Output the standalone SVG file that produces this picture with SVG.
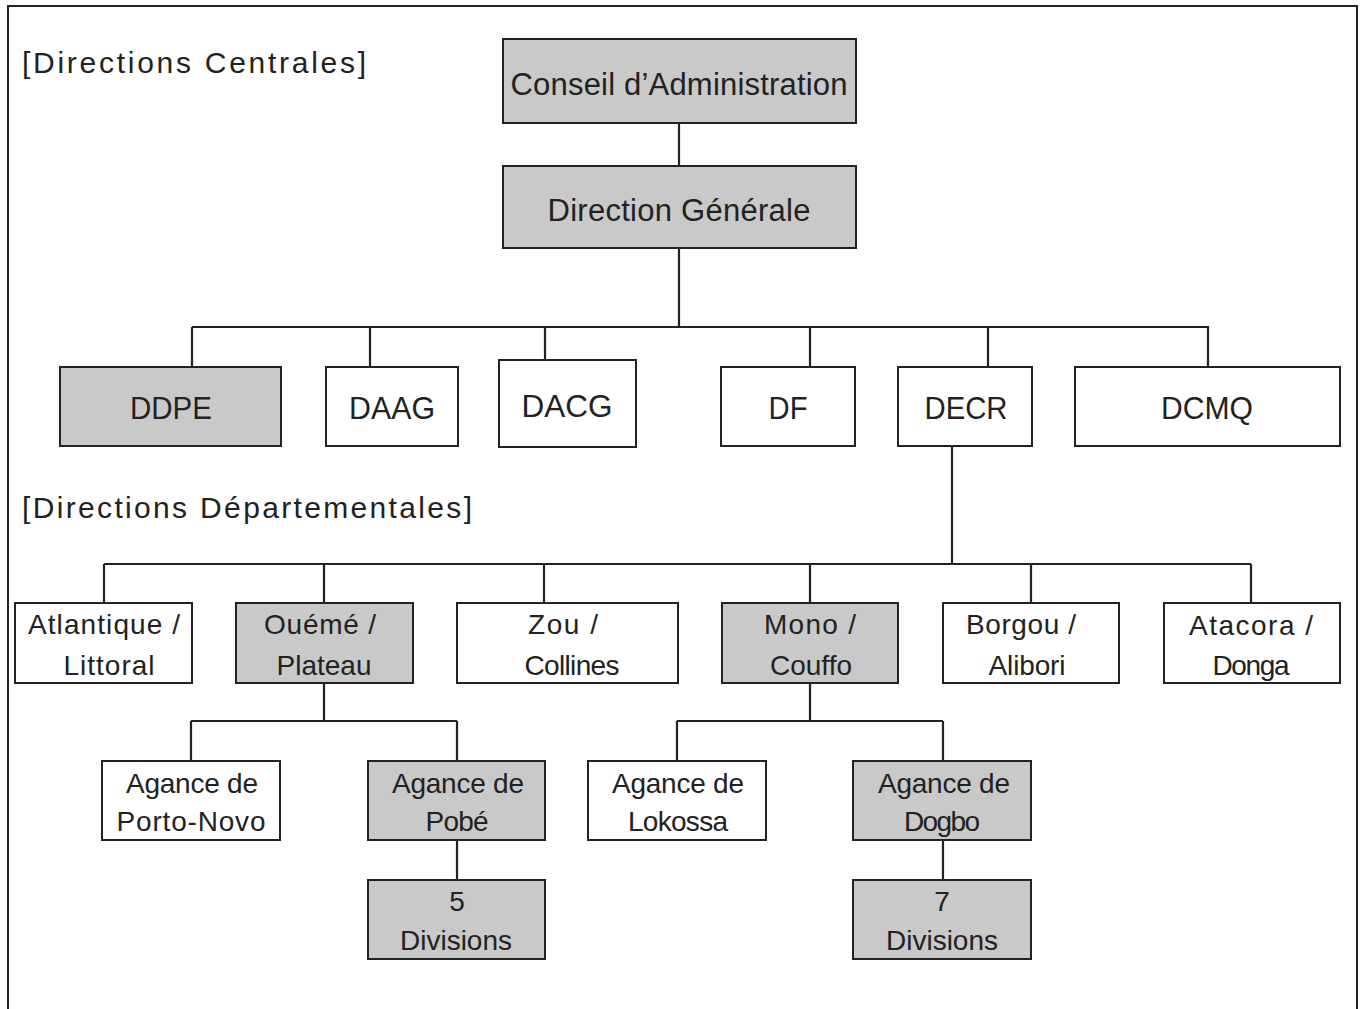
<svg xmlns="http://www.w3.org/2000/svg" width="1365" height="1009" viewBox="0 0 1365 1009">
<style>
.box{stroke:#222;stroke-width:2;fill:#fff}
.grey{fill:#c9c9c9}
.ln{stroke:#222;stroke-width:2.2;fill:none}
text{font-family:"Liberation Sans",Arial,sans-serif;fill:#222;text-anchor:middle}
.t1{font-size:31px}
.t2{font-size:28px}
.hd{font-size:30px;text-anchor:start}
</style>
<rect width="1365" height="1009" fill="#fff"/>
<path d="M8 1012 V6 H1357 V1012" fill="none" stroke="#222" stroke-width="2"/>
<text class="hd" x="22" y="73" textLength="344">[Directions Centrales]</text>
<text class="hd" x="22" y="518" textLength="450">[Directions Départementales]</text>
<g id="connectors">
<path class="ln" d="M679 123 V166 M679 248 V327 M192 327 H1209 M192 327 V367 M370 327 V367 M545 327 V360 M810 327 V367 M988 327 V367 M1208 327 V367"/>
<path class="ln" d="M952 446 V564 M104 564 H1251 M104 564 V603 M324 564 V603 M544 564 V603 M810 564 V603 M1031 564 V603 M1251 564 V603"/>
<path class="ln" d="M324 683 V721 M191 721 H457 M191 721 V761 M457 721 V761 M457 840 V880"/>
<path class="ln" d="M810 683 V721 M677 721 H943 M677 721 V761 M943 721 V761 M943 840 V880"/>
</g>
<g id="conseil"><rect class="box grey" x="503" y="39" width="353" height="84"/><text class="t1" x="679" y="95" textLength="337">Conseil d’Administration</text></g>
<g id="dg"><rect class="box grey" x="503" y="166" width="353" height="82"/><text class="t1" x="679" y="221" textLength="263">Direction Générale</text></g>
<g id="ddpe"><rect class="box grey" x="60" y="367" width="221" height="79"/><text class="t1" x="171" y="419" textLength="82" lengthAdjust="spacingAndGlyphs">DDPE</text></g>
<g id="daag"><rect class="box" x="326" y="367" width="132" height="79"/><text class="t1" x="392" y="419" textLength="86" lengthAdjust="spacingAndGlyphs">DAAG</text></g>
<g id="dacg"><rect class="box" x="499" y="360" width="137" height="87"/><text class="t1" x="567" y="417" textLength="91" lengthAdjust="spacingAndGlyphs">DACG</text></g>
<g id="df"><rect class="box" x="721" y="367" width="134" height="79"/><text class="t1" x="788" y="419" textLength="39" lengthAdjust="spacingAndGlyphs">DF</text></g>
<g id="decr"><rect class="box" x="898" y="367" width="134" height="79"/><text class="t1" x="966" y="419" textLength="83" lengthAdjust="spacingAndGlyphs">DECR</text></g>
<g id="dcmq"><rect class="box" x="1075" y="367" width="265" height="79"/><text class="t1" x="1207" y="419" textLength="92" lengthAdjust="spacingAndGlyphs">DCMQ</text></g>
<g id="atlantique"><rect class="box" x="15" y="603" width="177" height="80"/><text class="t2" x="104" y="634" textLength="152">Atlantique /</text><text class="t2" x="109" y="675" textLength="91">Littoral</text></g>
<g id="oueme"><rect class="box grey" x="236" y="603" width="177" height="80"/><text class="t2" x="320" y="634" textLength="112">Ouémé /</text><text class="t2" x="324" y="675" textLength="95">Plateau</text></g>
<g id="zou"><rect class="box" x="457" y="603" width="221" height="80"/><text class="t2" x="563" y="634" textLength="70">Zou /</text><text class="t2" x="572" y="675" textLength="95">Collines</text></g>
<g id="mono"><rect class="box grey" x="722" y="603" width="176" height="80"/><text class="t2" x="810" y="634" textLength="92">Mono /</text><text class="t2" x="811" y="675" textLength="82">Couffo</text></g>
<g id="borgou"><rect class="box" x="943" y="603" width="176" height="80"/><text class="t2" x="1021" y="634" textLength="110">Borgou /</text><text class="t2" x="1027" y="675" textLength="77">Alibori</text></g>
<g id="atacora"><rect class="box" x="1164" y="603" width="176" height="80"/><text class="t2" x="1251" y="635" textLength="124">Atacora /</text><text class="t2" x="1251" y="675" textLength="77">Donga</text></g>
<g id="portonovo"><rect class="box" x="102" y="761" width="178" height="79"/><text class="t2" x="192" y="793" textLength="132">Agance de</text><text class="t2" x="191" y="831" textLength="149">Porto-Novo</text></g>
<g id="pobe"><rect class="box grey" x="368" y="761" width="177" height="79"/><text class="t2" x="458" y="793" textLength="132">Agance de</text><text class="t2" x="457" y="831" textLength="63">Pobé</text></g>
<g id="div5"><rect class="box grey" x="368" y="880" width="177" height="79"/><text class="t2" x="457" y="911">5</text><text class="t2" x="456" y="950" textLength="112">Divisions</text></g>
<g id="lokossa"><rect class="box" x="588" y="761" width="178" height="79"/><text class="t2" x="678" y="793" textLength="132">Agance de</text><text class="t2" x="678" y="831" textLength="100">Lokossa</text></g>
<g id="dogbo"><rect class="box grey" x="853" y="761" width="178" height="79"/><text class="t2" x="944" y="793" textLength="132">Agance de</text><text class="t2" x="942" y="831" textLength="76">Dogbo</text></g>
<g id="div7"><rect class="box grey" x="853" y="880" width="178" height="79"/><text class="t2" x="942" y="911">7</text><text class="t2" x="942" y="950" textLength="112">Divisions</text></g>
</svg>
